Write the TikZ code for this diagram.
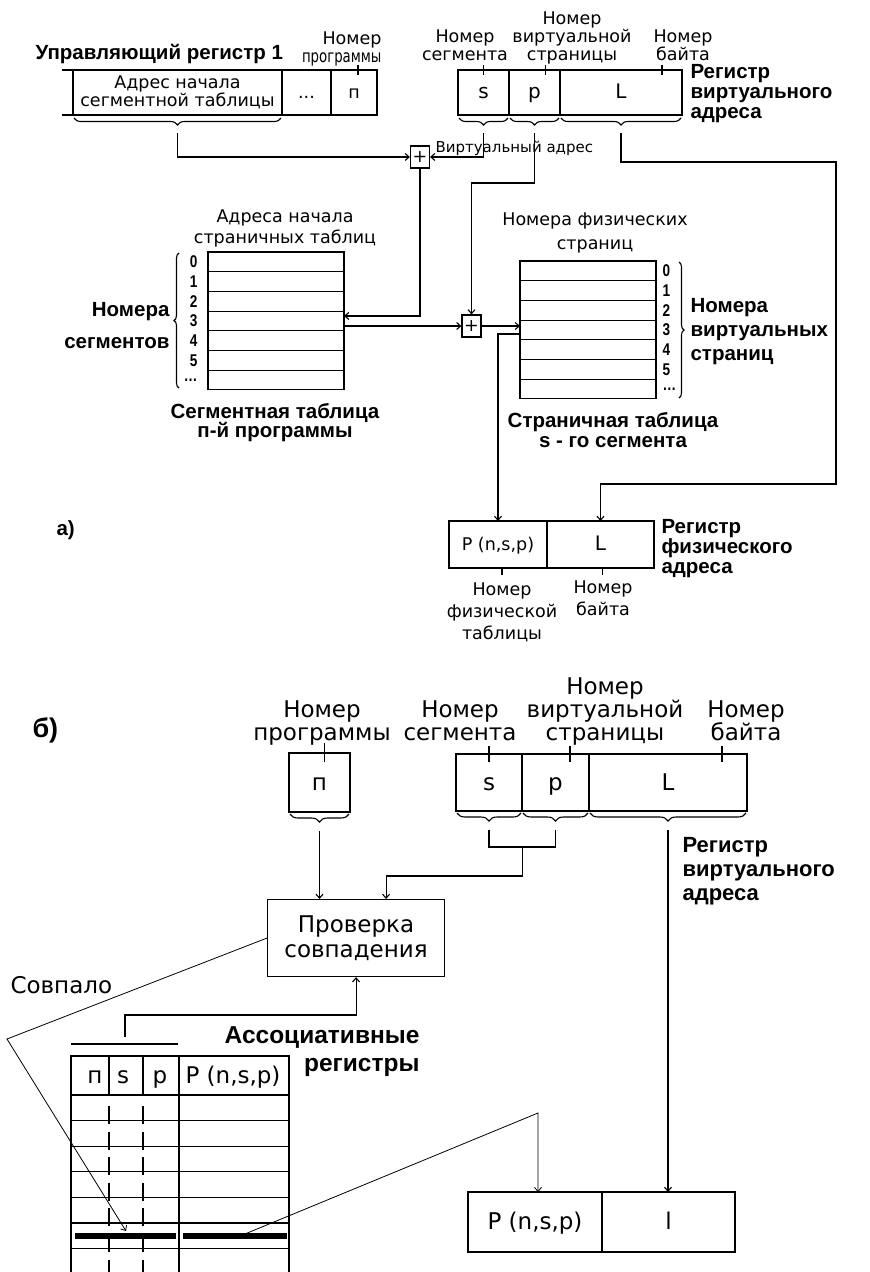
\documentclass[tikz,border=0pt]{standalone}
\usepackage{graphicx}
\usepackage{fontspec}
\setmainfont{DejaVu Sans}
\newfontfamily\headfont{Liberation Sans}
\newfontfamily\narrowfont{Liberation Sans}[FakeStretch=0.8]
\usetikzlibrary{positioning,calc,decorations.pathreplacing,arrows.meta}

\newcommand{\fa}{\fontsize{17.5}{18}\selectfont}
\newcommand{\fc}{\fontsize{20}{20}\selectfont}
\newcommand{\fb}{\fontsize{23}{23}\selectfont}
\newcommand{\ha}{\headfont\bfseries\fontsize{20.5}{20}\selectfont}
\newcommand{\hb}{\headfont\bfseries\fontsize{22}{24}\selectfont}
\newcommand{\fd}{\narrowfont\bfseries\fontsize{17}{17}\selectfont}

\begin{document}
\begin{tikzpicture}[x=1pt, y=-1pt, line width=1.1pt,
	>={Straight Barb[length=4pt,width=7pt]},
	cell/.style={draw, inner sep=0pt, outer sep=0pt, anchor=north west, align=center, font=\fa},
	rega/.style={cell, minimum height=45, font=\fc, text height=16pt, text depth=4pt},
	regb/.style={cell, minimum height=58, font=\fb, text height=19pt, text depth=4pt},
	row/.style={cell, minimum width=136, minimum height=19.7},
	sum/.style={draw, inner sep=0pt, minimum width=19, minimum height=22, font=\fa},
	txt/.style={font=\fa, align=center, inner sep=0pt, anchor=base},
	txtb/.style={font=\fb, align=center, inner sep=0pt, anchor=base},
	head/.style={font=\ha, inner sep=0pt, anchor=base west, align=left},
	headb/.style={font=\hb, inner sep=0pt, anchor=base west, align=left},
	dig/.style={font=\fd, inner sep=0pt},
	brc/.style={decorate, decoration={brace, mirror, amplitude=7pt}},
	diag/.style={line width=0.8pt}]
	\useasboundingbox (0,0) rectangle (870,1272);

	% a) segment and page tables
	\node[head] (ctrl) at (35,59) {Управляющий регистр 1};
	\node[cell, minimum width=209, minimum height=45] (c1) at (73,70) {Адрес начала\\сегментной таблицы};
	\node[rega, minimum width=49, font=\fa, right=0pt of c1] (c2) {...};
	\node[rega, minimum width=46, font=\fa, right=0pt of c2] (c3) {п};
	\draw (c1.north west) -- ++(-11,0) (c1.south west) -- ++(-11,0);

	\node[rega, minimum width=51] (vs) at (458,70) {s};
	\node[rega, minimum width=51, right=0pt of vs] (vp) {p};
	\node[rega, minimum width=122, right=0pt of vp] (vL) {L};
	\node[head] (vreg) at (690,118) {Регистр\\виртуального\\адреса};

	\node[txt, align=right, anchor=base east] (nprog) at (382,62) {Номер\\\scalebox{0.76}[1]{программы}};
	\node[txt] (nseg) at (465,60) {Номер\\сегмента};
	\node[txt] (nvpage) at (572,60) {Номер\\виртуальной\\страницы};
	\node[txt] (nbyte) at (683,60) {Номер\\байта};
	\draw ($(c3.north)+(4,-5)$) -- ++(0,10);
	\draw ($(vs.north)+(0,-5)$) -- ++(0,10);
	\draw ($(vp.north)+(11,-5)$) -- ++(0,10);
	\draw ($(vL.north)+(41,-5)$) -- ++(0,10);

	\foreach \c in {c1,vs,vp,vL} {
		\draw[brc] ($(\c.south west)+(1,3)$) -- ($(\c.south east)+(-1,3)$);
		\coordinate (\c t) at ($(\c.south)+(0,18)$);
	}

	\node[sum] (sum1) at (420,157) {+};
	\node[sum] (sum2) at (471.5,326) {+};
	\node[txt, anchor=base west, font=\fontsize{15}{15}\selectfont] (vaddr) at (435,152) {Виртуальный адрес};

	\node[txt] (segtop) at (285,243) {Адреса начала\\[3pt]страничных таблиц};
	\foreach \n [count=\i from 0] in {0,1,2,3,4,5,\dots} {
		\node[row] (seg\i) at (208,{252+19.7*\i}) {};
		\node[dig, left=10pt of seg\i] {\n};
	}
	\draw[decorate, decoration={brace, amplitude=5pt}] (179,388) -- (179,253);
	\node[head, align=right, anchor=base east] (segnum) at (170,348) {Номера\\[12pt]сегментов};
	\node[head, align=center, anchor=base] (segcap) at (275,437) {Сегментная таблица\\[-1pt]п-й программы};

	\node[txt] (pgtop) at (595,249) {Номера физических\\[6pt]страниц};
	\foreach \n [count=\i from 0] in {0,1,2,3,4,5,\dots} {
		\node[row] (pg\i) at (520,{261+19.7*\i}) {};
		\node[dig, right=6pt of pg\i] {\n};
	}
	\draw[decorate, decoration={brace, amplitude=5pt}] (679,262) -- (679,398);
	\node[head] (vpnum) at (690,360) {Номера\\[4pt]виртуальных\\[4pt]страниц};
	\node[head, align=center, anchor=base] (pgcap) at (613,447) {Страничная таблица\\s - го сегмента};

	\node[rega, minimum width=98, minimum height=47, font=\fa] (pP) at (449,521) {P (n,s,p)};
	\node[rega, minimum width=107, minimum height=47, right=0pt of pP] (pL) {L};
	\node[head] (preg) at (661,573) {Регистр\\физического\\адреса};
	\node[head] (la) at (56,535) {а)};
	\draw ($(pP.south)+(4,-1)$) -- ++(0,8);
	\draw ($(pL.south)+(2,-1)$) -- ++(0,8);
	\node[txt] (nphys) at (502,639) {Номер\\[4pt]физической\\[4pt]таблицы};
	\node[txt] (nbyte2) at (603,615) {Номер\\[4pt]байта};

	\coordinate (turn) at (836,484);
	\draw[->] (c1t) |- (sum1.west);
	\draw[->] (vst) |- (sum1.east);
	\draw[->] (vpt) -- ++(0,50) -| (sum2.north);
	\draw[->] (vLt) -- ++(0,29) -| (turn) -| (pL.north);
	\draw[->] (sum1.south) |- ($(seg3.east)+(0,-5)$);
	\draw[->] (seg3.east |- sum2.west) -- (sum2.west);
	\draw[->] (sum2.east) -- (sum2.east -| pg3.west);
	\draw[->] ($(pg3.west)+(0,4)$) -| (pP.north);

	% b) associative registers
	\node[headb, font=\headfont\bfseries\fontsize{27}{27}\selectfont] (lb) at (32,737) {б)};
	\node[txtb] (bnprog) at (322,740) {Номер\\программы};
	\node[regb, minimum width=61, minimum height=59] (bn) at (289,753) {п};
	\node[regb, minimum width=66, minimum height=57] (bs) at (456,754) {s};
	\node[regb, minimum width=67, minimum height=57, right=0pt of bs] (bp) {p};
	\node[regb, minimum width=158, minimum height=57, right=0pt of bp] (bL) {L};
	\node[txtb] (bnseg) at (460,740) {Номер\\сегмента};
	\node[txtb] (bnvp) at (605,740) {Номер\\виртуальной\\страницы};
	\node[txtb] (bnbyte) at (746,740) {Номер\\байта};
	\draw ($(bn.north)+(5,-10)$) -- ++(0,19);
	\draw ($(bs.north)+(0,-8)$) -- ++(0,16);
	\draw ($(bp.north)+(14.5,-8)$) -- ++(0,16);
	\draw ($(bL.north)+(54,-8)$) -- ++(0,16);
	\foreach \c in {bn,bs,bp,bL} {
		\draw[brc, decoration={amplitude=8pt}] ($(\c.south west)+(1,2)$) -- ($(\c.south east)+(-1,2)$);
		\coordinate (\c t) at ($(\c.south)+(0,19)$);
	}
	\node[headb] (bvreg) at (682,900) {Регистр\\виртуального\\адреса};

	\node[draw, inner sep=0pt, anchor=north west, minimum width=177, minimum height=77, font=\fb, align=center] (chk) at (267,899) {Проверка\\[2pt]совпадения};
	\coordinate (join) at ($(bst)!0.5!(bpt)+(0,17)$);
	\draw[->] (bnt) -- (bnt |- chk.north);
	\draw (bst) -- ++(0,17) -| (bpt);
	\draw[->] (join) -- ++(0,29) -| ($(chk.north)+(30,0)$);

	\node[regb, minimum width=134, minimum height=60] (qP) at (468,1192) {P (n,s,p)};
	\node[regb, minimum width=133, minimum height=60, right=0pt of qP] (ql) {l};
	\draw[->] (bLt) -- (bLt |- ql.north);

	\draw (71,1044) -- (178,1044);
	\coordinate (asc) at (125,1037);
	\draw[->] (asc) -- ++(0,-22) -| (chk.south);
	\draw (71,1272) |- (289,1056) -- (289,1272);
	\draw (179,1056) -- (179,1272);
	\draw (109,1056) -- (109,1095) (143,1056) -- (143,1095);
	\foreach \k in {0,...,6} {
		\draw (71,{1095+25.6*\k}) -- (289,{1095+25.6*\k});
		\draw (109,{1106+25.6*\k}) -- ++(0,18) (143,{1106+25.6*\k}) -- ++(0,18);
	}
	\draw[line width=6pt] (75,1236) -- (176,1236) (183,1236) -- (287,1236);
	\node[txtb] (hn) at (95,1083) {п};
	\node[txtb] (hs) at (123,1083) {s};
	\node[txtb] (hp) at (160,1083) {p};
	\node[txtb] (hP) at (233,1083) {P (n,s,p)};
	\node[headb, align=right, anchor=base east, font=\headfont\bfseries\fontsize{24.5}{24}\selectfont] (ascap) at (420,1071) {Ассоциативные\\[4pt]регистры};

	\node[txtb, anchor=base west] (match) at (10,993) {Совпало};
	\coordinate (kinkL) at (7,1039);
	\coordinate (hitL) at (126,1231);
	\coordinate (hitR) at (240,1236);
	\coordinate (kinkR) at (538,1113);
	\draw[->, diag] (chk.west) -- (kinkL) -- (hitL);
	\draw[->, diag] (hitR) -- (kinkR) -- (kinkR |- qP.north);
\end{tikzpicture}
\end{document}
